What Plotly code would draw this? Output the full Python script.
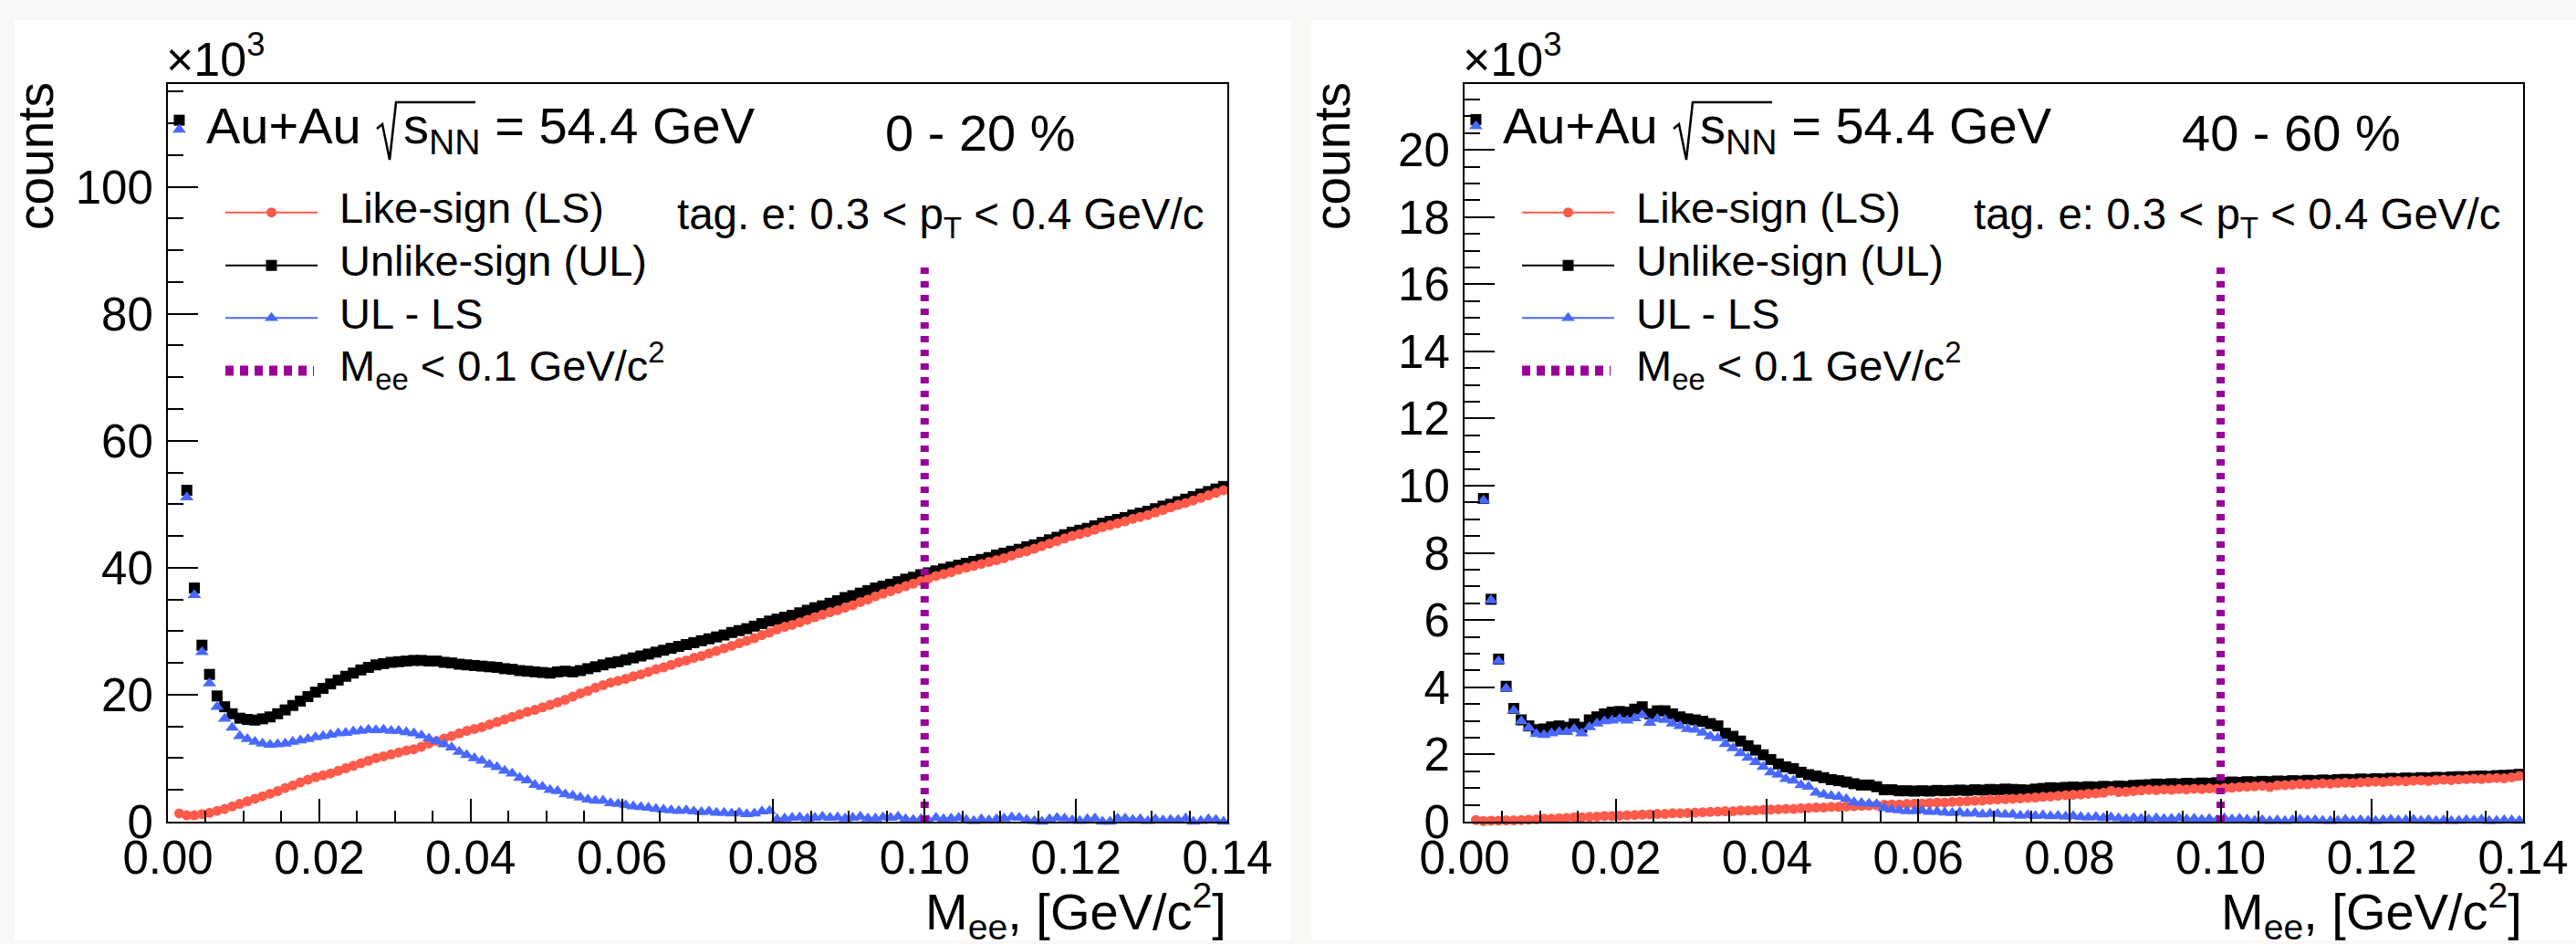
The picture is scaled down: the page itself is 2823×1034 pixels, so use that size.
import plotly.graph_objects as go

FONT = "Liberation Sans"
W, H = 2823, 1034

# invariant-mass bin centres [GeV/c^2], 1 MeV bins
mass = [round(0.0015 + 0.001 * i, 4) for i in range(139)]

# ---- 0-20 % central, counts in units of 10^3 ----
ul_0_20 = [
    110.5, 52.2, 36.8, 27.8, 23.2, 19.8, 18.1, 17.0, 16.3, 16.1,
    16.0, 16.2, 16.5, 17.0, 17.6, 18.3, 19.0, 19.7, 20.4, 21.0,
    21.7, 22.3, 22.9, 23.4, 23.9, 24.3, 24.7, 24.9, 25.1, 25.2,
    25.3, 25.4, 25.4, 25.3, 25.3, 25.1, 25.0, 24.8, 24.7, 24.6,
    24.5, 24.4, 24.3, 24.1, 24.0, 23.8, 23.7, 23.6, 23.5, 23.4,
    23.6, 23.7, 23.6, 23.8, 24.1, 24.4, 24.7, 25.0, 25.2, 25.5,
    25.8, 26.1, 26.4, 26.7, 27.0, 27.3, 27.6, 27.9, 28.2, 28.5,
    28.8, 29.1, 29.4, 29.8, 30.1, 30.4, 30.8, 31.2, 31.6, 31.9,
    32.2, 32.5, 32.9, 33.3, 33.7, 34.0, 34.4, 34.8, 35.3, 35.6,
    36.0, 36.4, 36.8, 37.1, 37.4, 37.8, 38.2, 38.5, 38.9, 39.2,
    39.5, 39.8, 40.1, 40.4, 40.7, 41.0, 41.3, 41.6, 42.0, 42.3,
    42.6, 42.9, 43.3, 43.6, 44.0, 44.4, 44.8, 45.2, 45.6, 45.9,
    46.2, 46.6, 47.0, 47.3, 47.6, 47.9, 48.3, 48.6, 48.9, 49.3,
    49.7, 50.0, 50.4, 50.8, 51.2, 51.6, 52.0, 52.4, 52.8,
]
ls_0_20 = [
    1.3, 1.0, 1.0, 1.2, 1.4, 1.7, 2.0, 2.4, 2.8, 3.2,
    3.6, 4.0, 4.4, 4.8, 5.3, 5.7, 6.2, 6.6, 7.0, 7.3,
    7.6, 8.0, 8.4, 8.8, 9.2, 9.6, 10.0, 10.3, 10.6, 10.9,
    11.2, 11.4, 11.8, 12.3, 12.7, 13.1, 13.5, 13.9, 14.3, 14.6,
    14.9, 15.3, 15.7, 16.1, 16.5, 16.9, 17.3, 17.6, 18.0, 18.4,
    18.8, 19.2, 19.7, 20.2, 20.6, 21.1, 21.5, 21.9, 22.2, 22.5,
    22.9, 23.2, 23.6, 24.0, 24.3, 24.7, 25.1, 25.4, 25.8, 26.1,
    26.5, 26.9, 27.3, 27.7, 28.1, 28.5, 28.9, 29.4, 29.8, 30.3,
    30.7, 31.0, 31.4, 31.8, 32.2, 32.6, 33.0, 33.3, 33.7, 34.1,
    34.6, 35.0, 35.5, 35.9, 36.3, 36.7, 37.1, 37.5, 37.9, 38.3,
    38.7, 39.0, 39.3, 39.7, 40.0, 40.3, 40.6, 40.9, 41.2, 41.5,
    41.9, 42.3, 42.6, 43.0, 43.4, 43.8, 44.2, 44.6, 45.0, 45.3,
    45.6, 46.0, 46.4, 46.7, 47.0, 47.3, 47.7, 48.0, 48.3, 48.7,
    49.1, 49.5, 49.9, 50.2, 50.6, 51.0, 51.4, 51.8, 52.2,
]
sub_0_20 = [
    109.0, 51.1, 35.7, 26.7, 21.8, 18.1, 16.2, 14.8, 13.5, 13.0,
    12.6, 12.3, 12.1, 12.2, 12.3, 12.6, 12.8, 13.0, 13.3, 13.5,
    13.7, 13.9, 14.0, 14.2, 14.3, 14.5, 14.4, 14.5, 14.3, 14.3,
    14.1, 13.9, 13.6, 13.1, 12.7, 12.2, 11.7, 11.0, 10.5, 10.0,
    9.6, 9.0, 8.6, 8.0, 7.6, 6.9, 6.5, 5.8, 5.5, 5.0,
    4.8, 4.3, 4.1, 3.8, 3.5, 3.3, 3.3, 2.9, 2.8, 2.6,
    2.4, 2.3, 2.2, 2.0, 1.9, 1.8, 1.7, 1.8, 1.6, 1.5,
    1.6, 1.4, 1.4, 1.3, 1.4, 1.2, 1.3, 1.6, 1.7, 0.4,
    0.5, 0.6, 0.7, 0.5, 0.6, 0.8, 0.6, 0.7, 0.5, 0.6,
    0.8, 0.5, 0.5, 0.7, 0.6, 0.8, 0.4, 0.3, 0.4, 0.2,
    0.6, 0.4, 0.5, 0.6, 0.3, 0.1, 0.4, 0.2, 0.4, 0.5,
    0.7, 0.6, 0.3, 0.1, 0.0, 0.4, 0.6, 0.5, 0.2, 0.1,
    0.4, 0.5, 0.0, 0.0, 0.5, 0.5, 0.3, 0.4, 0.1, 0.4,
    0.2, 0.3, 0.3, 0.5, 0.0, 0.1, 0.4, 0.3, 0.0,
]

# ---- 40-60 % central, counts in units of 10^3 ----
ul_40_60 = [
    20.9, 9.62, 6.62, 4.84, 4.03, 3.37, 3.03, 2.85, 2.74, 2.76,
    2.82, 2.85, 2.81, 2.91, 2.81, 3.03, 3.12, 3.21, 3.26, 3.28,
    3.26, 3.35, 3.42, 3.21, 3.30, 3.30, 3.21, 3.12, 3.06, 3.03,
    2.99, 2.92, 2.85, 2.63, 2.54, 2.40, 2.26, 2.13, 1.99, 1.85,
    1.72, 1.63, 1.58, 1.47, 1.40, 1.36, 1.31, 1.25, 1.22, 1.18,
    1.13, 1.09, 1.09, 1.04, 0.95, 0.95, 0.92, 0.92, 0.91, 0.92,
    0.91, 0.93, 0.92, 0.93, 0.94, 0.93, 0.95, 0.94, 0.96, 0.95,
    0.97, 0.96, 0.95, 0.94, 0.97, 0.99, 1.01, 1.00, 1.02, 1.03,
    1.02, 1.04, 1.03, 1.05, 1.04, 1.06, 1.05, 1.08, 1.09, 1.10,
    1.12, 1.11, 1.13, 1.12, 1.14, 1.13, 1.15, 1.14, 1.16, 1.17,
    1.18, 1.17, 1.19, 1.18, 1.20, 1.19, 1.21, 1.20, 1.22, 1.21,
    1.23, 1.22, 1.24, 1.23, 1.25, 1.26, 1.25, 1.27, 1.26, 1.28,
    1.27, 1.29, 1.28, 1.30, 1.29, 1.31, 1.30, 1.32, 1.31, 1.33,
    1.34, 1.33, 1.35, 1.36, 1.35, 1.37, 1.38, 1.39, 1.41,
]
ls_40_60 = [
    0.05, 0.02, 0.03, 0.03, 0.04, 0.04, 0.05, 0.06, 0.07, 0.09,
    0.09, 0.10, 0.11, 0.13, 0.13, 0.14, 0.15, 0.17, 0.17, 0.18,
    0.19, 0.20, 0.21, 0.22, 0.23, 0.23, 0.25, 0.25, 0.26, 0.27,
    0.28, 0.29, 0.30, 0.31, 0.31, 0.33, 0.33, 0.34, 0.35, 0.36,
    0.37, 0.38, 0.38, 0.40, 0.41, 0.42, 0.42, 0.44, 0.44, 0.45,
    0.46, 0.47, 0.48, 0.49, 0.50, 0.51, 0.51, 0.53, 0.54, 0.54,
    0.56, 0.57, 0.57, 0.59, 0.60, 0.61, 0.62, 0.63, 0.65, 0.66,
    0.67, 0.68, 0.69, 0.71, 0.72, 0.74, 0.75, 0.77, 0.79, 0.80,
    0.81, 0.83, 0.84, 0.86, 0.92, 0.88, 0.89, 0.91, 0.93, 0.95,
    0.94, 0.96, 0.95, 0.97, 0.96, 0.98, 0.97, 0.99, 0.98, 1.00,
    1.01, 1.03, 1.04, 1.05, 1.07, 1.03, 1.08, 1.09, 1.10, 1.12,
    1.11, 1.13, 1.14, 1.13, 1.15, 1.16, 1.15, 1.17, 1.18, 1.19,
    1.18, 1.20, 1.21, 1.20, 1.22, 1.23, 1.21, 1.24, 1.25, 1.24,
    1.26, 1.27, 1.28, 1.27, 1.29, 1.30, 1.29, 1.32, 1.36,
]
sub_40_60 = [
    20.7, 9.56, 6.59, 4.78, 3.97, 3.31, 2.99, 2.79, 2.61, 2.58,
    2.63, 2.67, 2.67, 2.76, 2.63, 2.81, 2.92, 2.99, 3.01, 3.06,
    3.01, 3.08, 3.17, 2.94, 3.06, 3.03, 2.92, 2.85, 2.76, 2.74,
    2.65, 2.54, 2.49, 2.31, 2.19, 2.04, 1.90, 1.77, 1.63, 1.47,
    1.40, 1.27, 1.22, 1.09, 1.04, 0.86, 0.81, 0.77, 0.74, 0.67,
    0.58, 0.56, 0.54, 0.52, 0.40, 0.36, 0.34, 0.31, 0.31, 0.33,
    0.29, 0.30, 0.27, 0.26, 0.28, 0.24, 0.26, 0.22, 0.24, 0.23,
    0.21, 0.22, 0.18, 0.20, 0.17, 0.19, 0.16, 0.18, 0.15, 0.17,
    0.14, 0.12, 0.14, 0.11, 0.13, 0.10, 0.08, 0.11, 0.09, 0.07,
    0.10, 0.08, 0.09, 0.11, 0.07, 0.09, 0.06, 0.08, 0.05, 0.10,
    0.07, 0.09, 0.06, 0.03, 0.05, 0.02, 0.04, 0.02, 0.05, 0.06,
    0.04, 0.05, 0.03, 0.02, 0.03, 0.06, 0.03, 0.05, 0.03, 0.02,
    0.05, 0.06, 0.04, 0.05, 0.06, 0.03, 0.05, 0.02, 0.04, 0.02,
    0.03, 0.05, 0.04, 0.06, 0.02, 0.03, 0.05, 0.04, 0.03,
]

centrality = ["0 - 20 %", "40 - 60 %"]
like_sign = [ls_0_20, ls_40_60]
unlike_sign = [ul_0_20, ul_40_60]
ul_minus_ls = [sub_0_20, sub_40_60]

x_range = [0.0, 0.14]
y_max = [116.2, 21.96]          # in 10^3 counts
y_dtick = [20, 2]
y_minor = [5, 0.5]
mass_cut = 0.10                 # GeV/c^2
cut_line_top = [88.0, 16.6]     # in 10^3 counts

legend_labels = ["Like-sign (LS)", "Unlike-sign (UL)", "UL - LS",
                 "M<sub>ee</sub> &lt; 0.1 GeV/c<sup>2</sup>"]

RED = "#ff5a4a"
BLUE = "#4868ff"
BLACK = "#000000"
PURPLE = "#990099"
PAGE_BG = "#f8f7f5"

SQ_SIZE, CIRC_SIZE, TRI_SIZE = 12, 11, 13

# pixel layout of the two panels (page coordinates, y downwards)
PLOT_L = [184, 1605]
PLOT_R = [1345, 2765]
PLOT_T, PLOT_B = 92, 900
OFF = [0, 1421]
PANEL_BOX = [(16, 1415), (1437, W)]
PANEL_T, PANEL_B = 22, 1030


def fx(px):
    return px / W


def fy(py):
    return 1 - py / H


fig = go.Figure()

for p in range(2):
    xa = "x" if p == 0 else "x2"
    ya = "y" if p == 0 else "y2"
    fig.add_trace(go.Scatter(
        x=mass, y=unlike_sign[p], mode="markers", xaxis=xa, yaxis=ya,
        marker=dict(symbol="square", size=SQ_SIZE, color=BLACK, line=dict(width=0)),
        cliponaxis=False, showlegend=False))
    fig.add_trace(go.Scatter(
        x=mass, y=like_sign[p], mode="markers", xaxis=xa, yaxis=ya,
        marker=dict(symbol="circle", size=CIRC_SIZE, color=RED, line=dict(width=0)),
        cliponaxis=False, showlegend=False))
    fig.add_trace(go.Scatter(
        x=mass, y=ul_minus_ls[p], mode="markers", xaxis=xa, yaxis=ya,
        marker=dict(symbol="triangle-up", size=TRI_SIZE, color=BLUE, line=dict(width=0)),
        cliponaxis=False, showlegend=False))
    fig.add_trace(go.Scatter(
        x=[mass_cut, mass_cut], y=[0, cut_line_top[p]], mode="lines",
        xaxis=xa, yaxis=ya, line=dict(color=PURPLE, width=9, dash="7px,8px"),
        showlegend=False))

# ---- legend boxes, drawn in page pixel coordinates (x3/y3) ----
row_y = [232.7, 290.7, 348.3, 406.0]
styles = [("circle", RED, CIRC_SIZE), ("square", BLACK, SQ_SIZE),
          ("triangle-up", BLUE, TRI_SIZE)]
for p in range(2):
    o = OFF[p]
    x0, x1 = 247 + o, 348 + o
    for r, (sym, col, size) in enumerate(styles):
        fig.add_trace(go.Scatter(
            x=[x0, x1], y=[row_y[r], row_y[r]], mode="lines",
            xaxis="x3", yaxis="y3", line=dict(color=col, width=2),
            cliponaxis=False, showlegend=False))
        fig.add_trace(go.Scatter(
            x=[(x0 + x1) / 2], y=[row_y[r]], mode="markers",
            xaxis="x3", yaxis="y3",
            marker=dict(symbol=sym, size=size, color=col, line=dict(width=0)),
            cliponaxis=False, showlegend=False))
    fig.add_trace(go.Scatter(
        x=[x0, x1 - 4], y=[row_y[3], row_y[3]], mode="lines",
        xaxis="x3", yaxis="y3",
        line=dict(color=PURPLE, width=11, dash="9px,7px"),
        cliponaxis=False, showlegend=False))

# ---- axes ----
common = dict(showline=True, linecolor="black", linewidth=2, mirror=True,
              ticks="inside", tickcolor="black", tickwidth=2,
              tickfont=dict(family=FONT, size=51, color="black"),
              showgrid=False, zeroline=False, fixedrange=True,
              automargin=False)

layout_axes = {}
for p in range(2):
    sx = "" if p == 0 else "2"
    layout_axes["xaxis" + sx] = dict(
        common, domain=[fx(PLOT_L[p]), fx(PLOT_R[p])], range=x_range,
        anchor="y" + sx, tickmode="linear", tick0=0, dtick=0.02,
        tickformat=".2f", ticklen=25, ticklabelstandoff=-6,
        minor=dict(dtick=0.005, ticklen=12, ticks="inside",
                   tickcolor="black", tickwidth=2))
    layout_axes["yaxis" + sx] = dict(
        common, domain=[fy(PLOT_B), fy(PLOT_T)], range=[0, y_max[p]],
        anchor="x" + sx, tickmode="linear", tick0=0, dtick=y_dtick[p],
        ticklen=33, ticklabelstandoff=4,
        minor=dict(dtick=y_minor[p], ticklen=17, ticks="inside",
                   tickcolor="black", tickwidth=2))
layout_axes["xaxis3"] = dict(domain=[0, 1], range=[0, W], visible=False,
                             anchor="y3", fixedrange=True, automargin=False)
layout_axes["yaxis3"] = dict(domain=[0, 1], range=[H, 0], visible=False,
                             anchor="x3", fixedrange=True, automargin=False)

# ---- text ----
ann = []


def text(x, y, s, size, xanchor="left", yanchor="middle", angle=0):
    ann.append(dict(x=x, y=y, xref="x3", yref="y3", text=s, showarrow=False,
                    xanchor=xanchor, yanchor=yanchor, textangle=angle,
                    font=dict(family=FONT, size=size, color="black")))


shapes = []
for (l, r) in PANEL_BOX:
    shapes.append(dict(type="rect", xref="paper", yref="paper",
                       x0=fx(l), x1=fx(r), y0=fy(PANEL_B), y1=fy(PANEL_T),
                       fillcolor="white", line=dict(width=0), layer="below"))

for p in range(2):
    o = OFF[p]
    text(180 + o, 61, "×10<sup>3</sup>", 52)
    text(39 + o, 171, "counts", 55, xanchor="center", angle=-90)
    text(224 + o, 137.5, "Au+Au", 56)
    text(440 + o, 141.5, "s<sub>NN</sub> = 54.4 GeV", 56)
    text(968 + o, 145.5, centrality[p], 56)
    text(740 + o, 237.5, "tag. e: 0.3 &lt; p<sub>T</sub> &lt; 0.4 GeV/c", 47.5)
    mids = [227.4, 285.4, 343.0, 400.6]
    for r in range(4):
        text(370 + o, mids[r], legend_labels[r], 47)
    text(PLOT_R[p] + 1, 997.5, "M<sub>ee</sub>, [GeV/c<sup>2</sup>]", 56,
         xanchor="right")
    # radical sign of sqrt(s_NN)
    shapes.append(dict(
        type="path", xref="x3", yref="y3",
        path=(f"M {413 + o},{141} L {419 + o},{136} L {427 + o},{175} "
              f"L {434 + o},{112} L {521 + o},{112}"),
        line=dict(color="black", width=2.5)))

fig.update_layout(
    template="none",
    width=W, height=H,
    margin=dict(l=0, r=0, t=0, b=0, pad=0, autoexpand=False),
    paper_bgcolor=PAGE_BG, plot_bgcolor="rgba(0,0,0,0)",
    showlegend=False, hovermode=False,
    annotations=ann, shapes=shapes, **layout_axes)

fig.write_html("out.html", config={"displayModeBar": False},
               post_script="document.body.style.margin='0';"
                           "document.body.style.overflow='hidden';")
